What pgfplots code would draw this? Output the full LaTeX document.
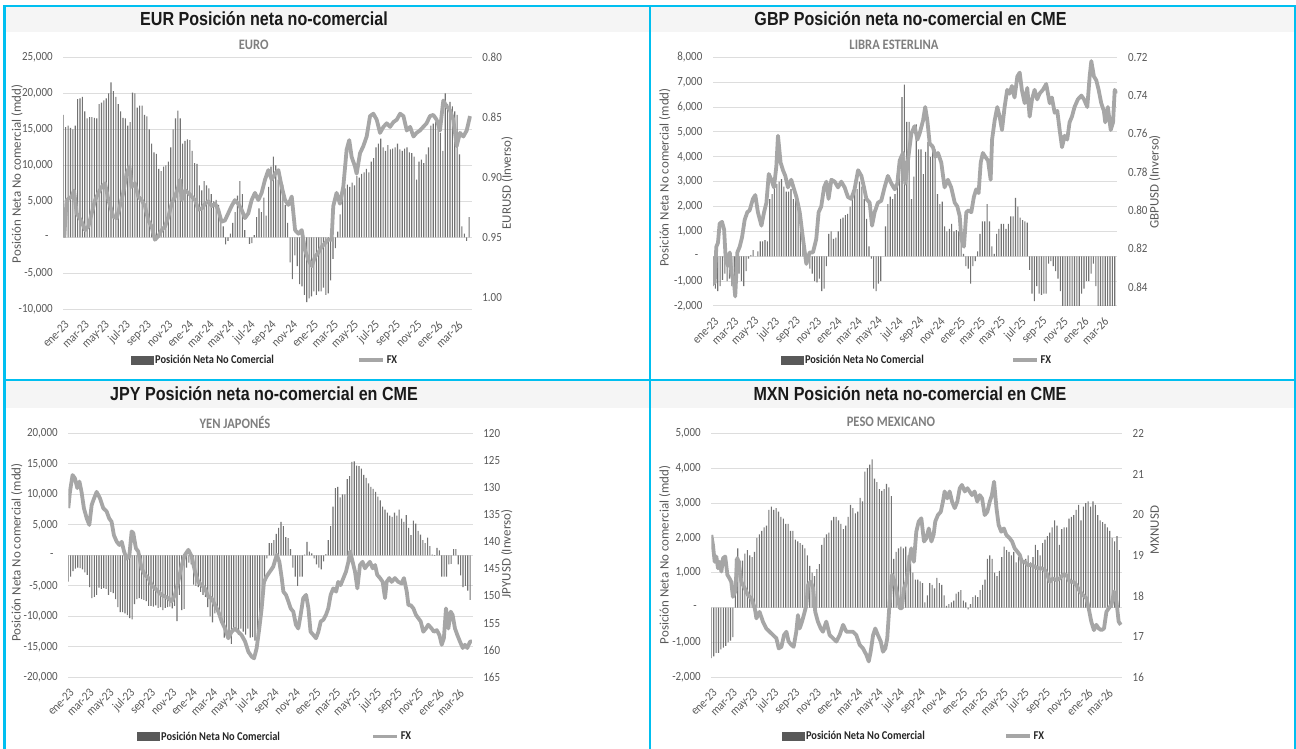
\documentclass[border=0pt]{standalone}
\usepackage{fontspec}
\setmainfont{Carlito}
\newfontfamily\titlefont{Liberation Sans}[FakeStretch=0.85]
\newfontfamily\tickfont{Carlito}[FakeStretch=0.88]
\newfontfamily\legfont{Carlito}[FakeStretch=0.87]
\usepackage{pgfplots}
\pgfplotsset{compat=1.18}

\definecolor{barc}{HTML}{737373}
\definecolor{legbarc}{HTML}{595959}
\definecolor{fxc}{HTML}{A6A6A6}
\definecolor{gridc}{HTML}{DDDDDD}
\definecolor{tickc}{HTML}{595959}
\definecolor{cyanc}{HTML}{00BFF0}
\definecolor{bandc}{HTML}{F5F5F5}
\definecolor{subc}{HTML}{7F7F7F}
\definecolor{titlec}{HTML}{1A1A1A}
\definecolor{legc}{HTML}{262626}

\pgfplotsset{
  panel/.style={scale only axis, xmin=0, xmax=171.1, clip=true,
    scaled x ticks=false, scaled y ticks=false,
    axis line style={draw=none}, major tick style={draw=none},
    xtick={0,8.43,17.14,25.86,34.71,43.43,52.14,60.71,69.43,78.14,87,95.71,104.43,112.86,121.57,130.29,139.14,147.86,156.57,165},
    xticklabels={ene-23,mar-23,may-23,jul-23,sep-23,nov-23,ene-24,mar-24,may-24,jul-24,sep-24,nov-24,ene-25,mar-25,may-25,jul-25,sep-25,nov-25,ene-26,mar-26},
    xticklabel style={font=\tickfont\fontsize{12.5}{13}\selectfont, text=tickc, rotate=45, anchor=east, inner sep=0pt, xshift=-7.1bp, yshift=-12.3bp},
    yticklabel style={font=\tickfont\fontsize{12.5}{13}\selectfont, text=tickc, inner sep=0pt},
  },
  leftpanel/.style={panel, ymajorgrids, grid style={draw=gridc, line width=1bp},
    yticklabel style={xshift=-10.5bp}},
  rightpanel/.style={panel, axis y line*=right, y dir=reverse, hide x axis,
    yticklabel style={xshift=10.5bp},
    legend style={draw=none, fill=none, inner sep=0pt, legend columns=2,
      font=\legfont\bfseries\fontsize{12}{13}\selectfont, text=legc, nodes={inner sep=1.5bp}}},
  barplot/.style={ybar, bar width=1.1bp, fill=barc, draw=none},
  fxplot/.style={color=fxc, line width=3.8bp, line join=round, no markers,
    legend image code/.code={\draw[color=fxc, line width=3.8bp] (0bp,0bp) -- (24bp,0bp);}},
  barleg/.style={legend image code/.code={\fill[legbarc] (0bp,-4bp) rectangle (22bp,4bp);}},
}

\begin{document}
\begin{tikzpicture}
\path[use as bounding box] (0bp,0bp) rectangle (1296bp,749bp);
\fill[white] (0bp,0bp) rectangle (1296bp,749bp);
% title bands
\fill[bandc] (5.4bp,716.5bp) rectangle (649bp,742.3bp);
\fill[bandc] (651bp,716.5bp) rectangle (1294.2bp,742.3bp);
\fill[bandc] (5.4bp,341bp) rectangle (649bp,367.7bp);
\fill[bandc] (651bp,341bp) rectangle (1294.2bp,367.7bp);

% ---------------- EUR ----------------
\begin{axis}[leftpanel, at={(63.3bp,439.7bp)}, anchor=south west, width=408.4bp, height=252bp,
  ymin=-10000, ymax=25000, ytick={-10000,-5000,0,5000,10000,15000,20000,25000},
  yticklabels={{-10,000},{-5,000},{-\hspace*{4bp}},{5,000},{10,000},{15,000},{20,000},{25,000}}]
\addplot[barplot] coordinates {(0,17000)(1,15300)(2,15500)(3,15200)(4,15000)(5,15500)(6,19200)(7,19300)(8,19500)(9,17500)(10,16500)(11,16700)(12,16700)(13,16600)(14,16500)(15,18500)(16,18700)(17,19000)(18,19300)(19,20000)(20,21500)(21,20300)(22,19500)(23,18500)(24,17500)(25,16600)(26,16500)(27,15500)(28,16000)(29,20100)(30,20000)(31,18000)(32,18300)(33,18300)(34,17000)(35,16800)(36,15000)(37,13000)(38,11800)(39,11600)(40,9500)(41,9200)(42,9800)(43,10000)(44,10500)(45,12500)(46,15000)(47,16500)(48,17600)(49,16500)(50,13000)(51,13400)(52,13600)(53,13500)(54,12000)(55,10300)(56,10200)(57,7200)(58,6500)(59,7800)(60,7200)(61,6800)(62,6000)(63,5000)(64,5200)(65,4500)(66,3000)(67,1500)(68,-1000)(69,-500)(70,500)(71,2000)(72,3500)(73,5800)(74,7800)(75,6000)(76,1000)(77,0)(78,-900)(79,-800)(80,300)(81,2800)(82,4000)(83,3500)(84,5500)(85,3000)(86,7000)(87,9800)(88,11200)(89,10000)(90,8000)(91,7800)(92,7300)(93,4500)(94,2000)(95,-3500)(96,-5800)(97,-2500)(98,-4000)(99,-6500)(100,-6800)(101,-8000)(102,-9000)(103,-8500)(104,-8200)(105,-7500)(106,-8000)(107,-7500)(108,-7500)(109,-7000)(110,-8000)(111,-7800)(112,-6000)(113,-3000)(114,-1500)(115,800)(116,3200)(117,6500)(118,6800)(119,7300)(120,7000)(121,7600)(122,7200)(123,8500)(124,8300)(125,8800)(126,9000)(127,9500)(128,9000)(129,10500)(130,11000)(131,12500)(132,13000)(133,13700)(134,12500)(135,12000)(136,12800)(137,12200)(138,12300)(139,12500)(140,13000)(141,12200)(142,12000)(143,12300)(144,12500)(145,11800)(146,11700)(147,11200)(148,8000)(149,10500)(150,10800)(151,10300)(152,11500)(153,12500)(154,15500)(155,15800)(156,16000)(157,16200)(158,14500)(159,12000)(160,20000)(161,18500)(162,18800)(163,18200)(164,17500)(165,17000)(166,11500)(167,1500)(168,500)(169,-500)(170,2800)};
\end{axis}
\begin{axis}[rightpanel, at={(63.3bp,439.7bp)}, anchor=south west, width=408.4bp, height=252bp,
  ymin=0.80, ymax=1.01, ytick={0.80,0.85,0.90,0.95,1.00},
  yticklabels={0.80,0.85,0.90,0.95,1.00},
  legend style={at={(0.166,-0.201)}, anchor=west, /tikz/every even column/.append style={column sep=82bp}}]
\addlegendimage{barleg}
\addlegendentry{Posición Neta No Comercial}
\addplot[fxplot] coordinates {(0,0.933)(0.4,0.949)(1.4,0.919)(3.5,0.916)(4.5,0.911)(5.6,0.930)(7.7,0.937)(9.1,0.944)(10.5,0.941)(11.9,0.930)(13.3,0.919)(14.7,0.913)(16.1,0.908)(17.5,0.905)(18.9,0.919)(21.0,0.933)(22.4,0.934)(23.7,0.924)(25.1,0.913)(26.5,0.897)(27.7,0.891)(28.6,0.908)(30.0,0.905)(31.4,0.916)(32.8,0.919)(34.2,0.924)(35.6,0.936)(37.0,0.941)(38.4,0.952)(39.8,0.949)(41.2,0.944)(42.6,0.941)(44.0,0.933)(45.4,0.922)(46.8,0.916)(48.2,0.908)(48.9,0.902)(49.6,0.919)(51.0,0.911)(52.4,0.913)(53.8,0.916)(55.2,0.919)(56.6,0.927)(58.0,0.926)(59.4,0.922)(60.8,0.920)(62.2,0.924)(63.6,0.922)(64.9,0.927)(66.3,0.937)(67.7,0.936)(69.1,0.930)(70.5,0.924)(71.9,0.919)(73.3,0.922)(74.7,0.927)(76.1,0.934)(77.5,0.930)(78.9,0.919)(80.3,0.913)(81.7,0.919)(83.1,0.913)(84.5,0.902)(85.9,0.894)(87.3,0.902)(88.7,0.897)(90.1,0.894)(91.5,0.908)(92.9,0.919)(94.3,0.923)(95.7,0.916)(96.4,0.930)(97.1,0.944)(98.5,0.947)(99.9,0.944)(101.3,0.961)(102.7,0.969)(104.1,0.974)(105.5,0.966)(106.8,0.963)(108.2,0.958)(109.6,0.955)(111.0,0.952)(112.4,0.952)(113.1,0.924)(114.5,0.913)(115.9,0.922)(117.3,0.908)(118.7,0.877)(119.8,0.869)(120.8,0.883)(122.2,0.891)(122.9,0.897)(124.3,0.880)(125.7,0.874)(127.1,0.866)(128.5,0.849)(129.9,0.847)(131.3,0.852)(132.7,0.863)(134.1,0.858)(135.5,0.855)(136.9,0.858)(138.3,0.854)(139.7,0.852)(141.1,0.847)(142.5,0.849)(143.9,0.861)(145.3,0.858)(146.7,0.866)(148.0,0.863)(149.4,0.861)(150.8,0.858)(152.2,0.855)(153.6,0.849)(155.0,0.848)(156.4,0.852)(157.8,0.861)(159.2,0.836)(160.6,0.841)(162.0,0.844)(163.4,0.852)(164.8,0.874)(166.2,0.863)(167.6,0.866)(169.0,0.861)(170.4,0.849)};
\addlegendentry{FX}
\end{axis}

% ---------------- GBP ----------------
\begin{axis}[leftpanel, at={(713bp,443bp)}, anchor=south west, width=404.3bp, height=248.7bp,
  ymin=-2000, ymax=8000, ytick={-2000,-1000,0,1000,2000,3000,4000,5000,6000,7000,8000},
  yticklabels={{-2,000},{-1,000},{-\hspace*{4bp}},{1,000},{2,000},{3,000},{4,000},{5,000},{6,000},{7,000},{8,000}}]
\addplot[barplot] coordinates {(0,-1200)(1,-1300)(2,-1400)(3,-1200)(4,-950)(5,-700)(6,-1000)(7,-900)(8,-1200)(9,-1100)(10,-700)(11,-700)(12,-1000)(13,-1200)(14,-600)(15,-100)(16,50)(17,250)(18,0)(19,200)(20,600)(21,600)(22,650)(23,600)(24,2300)(25,2500)(26,2800)(27,2900)(28,3000)(29,3100)(30,2800)(31,2600)(32,2600)(33,2700)(34,2300)(35,2400)(36,2300)(37,1700)(38,1000)(39,400)(40,-300)(41,-500)(42,-700)(43,-1000)(44,-1050)(45,-900)(46,-1400)(47,-1300)(48,-400)(49,900)(50,1000)(51,700)(52,750)(53,1000)(54,1500)(55,1550)(56,1650)(57,1700)(58,2000)(59,2300)(60,2600)(61,2700)(62,3000)(63,2800)(64,2300)(65,1500)(66,400)(67,-100)(68,-1300)(69,-1400)(70,-1100)(71,-1000)(72,0)(73,1200)(74,2100)(75,2400)(76,2300)(77,2500)(78,3300)(79,4000)(80,6400)(81,6900)(82,5400)(83,5400)(84,2300)(85,3200)(86,5300)(87,4300)(88,4300)(89,3300)(90,4200)(91,4600)(92,4000)(93,4500)(94,4300)(95,2500)(96,2100)(97,2200)(98,1200)(99,1000)(100,1100)(101,1300)(102,1000)(103,1050)(104,1000)(105,1050)(106,100)(107,-400)(108,-500)(109,-1100)(110,-400)(111,-200)(112,200)(113,900)(114,1400)(115,1400)(116,2100)(117,1400)(118,400)(119,100)(120,900)(121,1100)(122,1300)(123,1300)(124,1100)(125,1300)(126,1600)(127,1600)(128,2350)(129,2000)(130,1550)(131,1450)(132,1400)(133,1350)(134,-550)(135,-1500)(136,-1800)(137,-1200)(138,-1500)(139,-1550)(140,-1500)(141,-1500)(142,-300)(143,-200)(144,-400)(145,-600)(146,-900)(147,-1400)(148,-2100)(149,-2100)(150,-2100)(151,-2100)(152,-2100)(153,-2100)(154,-2100)(155,-2100)(156,-1500)(157,-1300)(158,-1000)(159,-1000)(160,-700)(161,-300)(162,-1200)(163,-2000)(164,-2100)(165,-2100)(166,-2100)(167,-2100)(168,-2100)(169,-2100)(170,-2100)};
\end{axis}
\begin{axis}[rightpanel, at={(713bp,443bp)}, anchor=south west, width=404.3bp, height=248.7bp,
  ymin=0.72, ymax=0.85, ytick={0.72,0.74,0.76,0.78,0.80,0.82,0.84},
  yticklabels={0.72,0.74,0.76,0.78,0.80,0.82,0.84},
  legend style={at={(0.168,-0.217)}, anchor=west, /tikz/every even column/.append style={column sep=86bp}}]
\addlegendimage{barleg}
\addlegendentry{Posición Neta No Comercial}
\addplot[fxplot] coordinates {(0,0.826)(0.7,0.838)(1.4,0.819)(2.1,0.817)(2.8,0.807)(3.8,0.806)(4.7,0.810)(5.4,0.826)(6.3,0.829)(7.1,0.822)(7.8,0.833)(8.9,0.838)(9.4,0.845)(10.3,0.822)(11.3,0.819)(12.3,0.814)(13.4,0.805)(14.5,0.801)(15.5,0.800)(16.9,0.794)(17.9,0.792)(19.0,0.801)(20.5,0.808)(21.6,0.801)(22.6,0.796)(23.6,0.781)(24.7,0.784)(25.8,0.788)(26.8,0.777)(27.5,0.761)(28.6,0.775)(29.6,0.779)(30.6,0.782)(31.7,0.788)(33.1,0.784)(34.3,0.789)(35.3,0.793)(36.7,0.801)(38.1,0.815)(39.5,0.828)(40.9,0.822)(42.3,0.822)(43.7,0.815)(44.7,0.801)(45.8,0.798)(47.0,0.788)(48.0,0.785)(48.9,0.794)(50.1,0.784)(51.5,0.785)(52.9,0.788)(54.3,0.785)(55.7,0.788)(57.1,0.793)(58.5,0.794)(59.9,0.789)(61.4,0.779)(62.8,0.782)(63.9,0.788)(64.9,0.794)(66.3,0.796)(67.3,0.808)(68.4,0.801)(69.8,0.796)(71.2,0.795)(72.6,0.788)(74.0,0.782)(75.5,0.786)(76.9,0.789)(78.0,0.786)(79.0,0.774)(80.4,0.770)(81.4,0.786)(82.5,0.774)(83.9,0.760)(85.3,0.756)(86.5,0.763)(87.4,0.760)(88.9,0.753)(89.8,0.746)(90.7,0.753)(91.7,0.765)(93.1,0.767)(94.1,0.772)(95.2,0.770)(96.6,0.775)(98.0,0.788)(99.4,0.784)(100.8,0.788)(102.3,0.796)(103.4,0.798)(104.4,0.803)(105.1,0.815)(106.2,0.819)(107.2,0.801)(108.2,0.800)(109.3,0.801)(110.4,0.793)(111.4,0.789)(112.4,0.791)(113.3,0.775)(114.2,0.770)(115.2,0.772)(116.4,0.774)(117.5,0.784)(118.1,0.763)(119.2,0.753)(120.3,0.746)(121.3,0.751)(122.3,0.758)(123.4,0.746)(124.5,0.737)(125.5,0.739)(126.5,0.735)(127.6,0.741)(128.8,0.730)(129.8,0.728)(130.7,0.737)(131.9,0.744)(133.0,0.736)(134.0,0.751)(135.0,0.742)(136.1,0.737)(137.2,0.742)(138.2,0.739)(139.6,0.737)(141.0,0.734)(142.5,0.744)(143.4,0.741)(144.6,0.749)(145.7,0.748)(146.7,0.758)(147.7,0.767)(148.8,0.761)(149.9,0.763)(150.9,0.754)(151.9,0.751)(153.0,0.746)(154.4,0.742)(155.9,0.740)(157.0,0.742)(158.4,0.746)(159.4,0.730)(160.1,0.722)(161.2,0.730)(162.2,0.732)(163.2,0.737)(164.3,0.744)(165.4,0.748)(166.0,0.754)(167.1,0.746)(168.3,0.758)(169.3,0.754)(170.0,0.737)(170.7,0.739)};
\addlegendentry{FX}
\end{axis}

% ---------------- JPY ----------------
\begin{axis}[leftpanel, at={(68.3bp,71.7bp)}, anchor=south west, width=404.4bp, height=244bp,
  ymin=-20000, ymax=20000, ytick={-20000,-15000,-10000,-5000,0,5000,10000,15000,20000},
  yticklabels={{-20,000},{-15,000},{-10,000},{-5,000},{-\hspace*{4bp}},{5,000},{10,000},{15,000},{20,000}}]
\addplot[barplot] coordinates {(0,-4300)(1,-3500)(2,-2600)(3,-2200)(4,-2000)(5,-2100)(6,-2300)(7,-2800)(8,-3200)(9,-5200)(10,-7000)(11,-6800)(12,-6500)(13,-5300)(14,-5500)(15,-5400)(16,-5500)(17,-6500)(18,-6000)(19,-6200)(20,-7200)(21,-8500)(22,-9300)(23,-9300)(24,-9500)(25,-9800)(26,-10300)(27,-10500)(28,-8000)(29,-7200)(30,-7000)(31,-7200)(32,-7300)(33,-7500)(34,-8300)(35,-8300)(36,-8400)(37,-8200)(38,-8600)(39,-8500)(40,-9000)(41,-8600)(42,-8500)(43,-8400)(44,-8700)(45,-8300)(46,-10800)(47,-6500)(48,-9000)(49,-8800)(50,-2000)(51,-1200)(52,-1500)(53,-4800)(54,-5000)(55,-5200)(56,-6000)(57,-6500)(58,-6800)(59,-8500)(60,-10000)(61,-11000)(62,-9500)(63,-9300)(64,-9800)(65,-10500)(66,-13500)(67,-13200)(68,-13600)(69,-14500)(70,-12000)(71,-12500)(72,-13000)(73,-12000)(74,-12500)(75,-13000)(76,-12000)(77,-13500)(78,-13400)(79,-14000)(80,-13500)(81,-12000)(82,-8000)(83,-4000)(84,-500)(85,2000)(86,2000)(87,2500)(88,3500)(89,4500)(90,5500)(91,4800)(92,3000)(93,2800)(94,1000)(95,-2000)(96,-3500)(97,-5000)(98,-3500)(99,-3500)(100,100)(101,2200)(102,600)(103,300)(104,-500)(105,-1500)(106,-2000)(107,-2300)(108,-1000)(109,200)(110,2500)(111,4800)(112,8000)(113,11000)(114,11200)(115,9500)(116,10000)(117,10000)(118,12500)(119,13000)(120,15300)(121,15400)(122,14700)(123,14600)(124,14200)(125,13200)(126,12700)(127,11800)(128,11200)(129,10900)(130,10400)(131,9600)(132,9000)(133,8000)(134,7500)(135,7000)(136,6500)(137,6300)(138,7000)(139,6500)(140,7500)(141,6000)(142,5500)(143,6600)(144,4500)(145,3300)(146,5700)(147,5200)(148,4000)(149,3400)(150,2500)(151,2000)(152,2900)(153,1500)(154,100)(155,-100)(156,1200)(157,800)(158,-3500)(159,-3500)(160,-3500)(161,-1500)(162,-1400)(163,1000)(164,1000)(165,-1500)(166,-3300)(167,-5200)(168,-5000)(169,-5800)(170,-7300)};
\end{axis}
\begin{axis}[rightpanel, at={(68.3bp,71.7bp)}, anchor=south west, width=404.4bp, height=244bp,
  ymin=120, ymax=165, ytick={120,125,130,135,140,145,150,155,160,165},
  yticklabels={120,125,130,135,140,145,150,155,160,165},
  legend style={at={(0.170,-0.243)}, anchor=west, /tikz/every even column/.append style={column sep=90bp}}]
\addlegendimage{barleg}
\addlegendentry{Posición Neta No Comercial}
\addplot[fxplot] coordinates {(0,133.8)(0.7,130.8)(1.8,127.7)(2.8,128.3)(3.8,130.1)(4.7,128.9)(5.6,130.8)(6.6,133.8)(7.8,135.7)(8.9,136.9)(9.9,133.2)(10.9,132.0)(12.0,130.8)(13.4,132.0)(14.8,133.8)(16.2,134.4)(17.3,135.7)(18.3,136.3)(19.3,138.8)(20.5,140.0)(21.6,140.6)(22.6,140.0)(23.6,141.8)(24.7,143.1)(25.8,142.7)(26.8,138.1)(27.5,138.4)(28.6,141.2)(29.6,141.8)(31.0,144.9)(32.4,146.1)(33.9,146.7)(35.3,148.0)(36.7,148.6)(38.1,149.2)(39.5,149.8)(40.9,150.1)(42.3,150.4)(43.7,151.0)(45.1,149.8)(46.5,147.4)(48.0,144.3)(49.4,142.4)(50.8,141.5)(52.2,142.7)(53.6,145.5)(55.0,147.4)(56.4,148.0)(57.8,148.6)(59.2,150.1)(60.6,150.4)(62.1,151.7)(63.5,152.9)(64.9,154.7)(66.3,156.0)(67.7,157.8)(69.1,156.6)(70.5,156.0)(71.9,156.6)(73.3,157.2)(74.8,158.4)(76.2,160.3)(77.6,161.2)(78.6,161.5)(79.7,159.6)(80.8,156.0)(81.8,152.3)(82.8,147.4)(83.9,146.4)(85.3,145.5)(86.7,144.6)(88.2,142.4)(89.3,143.7)(90.3,146.7)(91.0,149.2)(92.1,149.8)(93.1,151.0)(94.1,152.3)(95.2,152.9)(96.3,155.3)(97.3,156.0)(98.3,153.5)(99.4,150.4)(100.6,149.8)(101.6,152.3)(102.5,156.6)(103.7,157.2)(104.8,157.8)(105.8,156.6)(106.8,154.7)(107.9,154.4)(109.0,153.5)(110.0,152.3)(111.0,149.8)(112.1,148.6)(113.3,149.2)(114.2,147.4)(115.2,148.0)(116.4,146.7)(117.5,145.5)(118.5,143.7)(119.2,141.8)(120.3,143.7)(121.3,145.5)(122.3,148.6)(123.4,144.3)(124.5,143.7)(125.5,144.9)(126.5,144.3)(127.6,143.7)(128.8,144.9)(129.8,144.3)(130.7,146.1)(131.9,146.7)(133.0,147.4)(134.0,150.4)(134.7,147.4)(135.8,146.7)(136.8,147.4)(138.2,146.7)(139.6,147.4)(141.0,147.7)(142.0,146.7)(143.2,149.2)(143.9,151.7)(144.9,151.7)(146.0,152.3)(147.1,153.5)(148.1,154.1)(149.1,154.7)(150.2,156.6)(151.3,156.0)(152.3,155.3)(153.7,156.0)(154.7,156.6)(155.9,156.3)(157.0,157.2)(158.0,159.0)(158.9,157.8)(159.8,152.3)(160.8,156.0)(161.8,152.9)(162.6,153.5)(163.6,156.0)(164.6,157.2)(165.7,158.4)(166.9,159.6)(167.8,159.0)(168.8,159.6)(170.0,158.4)(170.8,158.4)};
\addlegendentry{FX}
\end{axis}

% ---------------- MXN ----------------
\begin{axis}[leftpanel, at={(711.3bp,71.7bp)}, anchor=south west, width=410.7bp, height=244bp,
  ymin=-2000, ymax=5000, ytick={-2000,-1000,0,1000,2000,3000,4000,5000},
  yticklabels={{-2,000},{-1,000},{-\hspace*{4bp}},{1,000},{2,000},{3,000},{4,000},{5,000}}]
\addplot[barplot] coordinates {(0,-1450)(1,-1400)(2,-1300)(3,-1300)(4,-1200)(5,-1150)(6,-1100)(7,-1000)(8,-950)(9,-850)(10,1400)(11,1700)(12,1350)(13,1350)(14,1550)(15,1650)(16,1500)(17,1450)(18,1600)(19,2000)(20,2100)(21,2200)(22,2300)(23,2350)(24,2800)(25,2900)(26,2800)(27,2850)(28,2750)(29,2600)(30,2550)(31,2400)(32,2400)(33,2200)(34,2200)(35,1950)(36,1900)(37,1850)(38,1800)(39,1700)(40,1500)(41,1200)(42,1000)(43,900)(44,1100)(45,1250)(46,1800)(47,2000)(48,2100)(49,2150)(50,2500)(51,2600)(52,2600)(53,2500)(54,2400)(55,2250)(56,2350)(57,2600)(58,2950)(59,2850)(60,2700)(61,2750)(62,3150)(63,3050)(64,3900)(65,4000)(66,4100)(67,4250)(68,3700)(69,3600)(70,3400)(71,3350)(72,3400)(73,3550)(74,3450)(75,3200)(76,1400)(77,1600)(78,1700)(79,1750)(80,1700)(81,1750)(82,1500)(83,1300)(84,1000)(85,800)(86,800)(87,750)(88,700)(89,150)(90,350)(91,700)(92,650)(93,550)(94,850)(95,700)(96,650)(97,350)(98,50)(99,100)(100,150)(101,200)(102,400)(103,450)(104,500)(105,200)(106,150)(107,-50)(108,100)(109,300)(110,350)(111,300)(112,500)(113,650)(114,800)(115,1400)(116,1500)(117,1400)(118,1000)(119,900)(120,1050)(121,1450)(122,1750)(123,1650)(124,1600)(125,1500)(126,1600)(127,1300)(128,1450)(129,1400)(130,1350)(131,1400)(132,1500)(133,1300)(134,1450)(135,1800)(136,1650)(137,1500)(138,1850)(139,1950)(140,2050)(141,2150)(142,2300)(143,2500)(144,2350)(145,1800)(146,2250)(147,2300)(148,2300)(149,2550)(150,2600)(151,2650)(152,2800)(153,2950)(154,2500)(155,2900)(156,3000)(157,3050)(158,2900)(159,3050)(160,2950)(161,2650)(162,2500)(163,2450)(164,2400)(165,2300)(166,2200)(167,2000)(168,1900)(169,2050)(170,1650)};
\end{axis}
\begin{axis}[rightpanel, y dir=normal, at={(711.3bp,71.7bp)}, anchor=south west, width=410.7bp, height=244bp,
  ymin=16, ymax=22, ytick={16,17,18,19,20,21,22},
  yticklabels={16,17,18,19,20,21,22},
  legend style={at={(0.172,-0.241)}, anchor=west, /tikz/every even column/.append style={column sep=78bp}}]
\addlegendimage{barleg}
\addlegendentry{Posición Neta No Comercial}
\addplot[fxplot] coordinates {(0,19.50)(0.7,19.25)(1.4,18.84)(2.1,18.97)(2.8,18.68)(3.5,18.84)(4.2,18.60)(4.9,18.93)(5.8,18.97)(6.7,18.52)(7.6,18.43)(8.3,18.35)(9.0,17.98)(10.0,18.11)(10.8,18.93)(11.4,18.84)(12.5,18.35)(13.9,18.19)(15.3,18.02)(16.7,17.94)(18.1,17.70)(18.8,17.45)(20.1,17.61)(21.5,17.37)(22.9,17.20)(24.3,17.12)(25.7,17.04)(27.1,16.96)(28.1,16.71)(29.2,16.75)(30.3,17.04)(31.3,17.12)(32.2,16.88)(33.3,16.80)(34.3,16.75)(35.4,17.12)(36.1,17.53)(36.8,17.20)(37.8,17.37)(38.9,17.61)(39.6,17.78)(40.3,18.27)(41.4,18.35)(42.4,18.19)(43.3,17.61)(44.4,17.37)(45.6,17.20)(46.5,17.12)(47.9,17.37)(49.3,17.04)(50.7,16.96)(52.1,16.88)(53.5,17.04)(54.9,17.29)(56.3,17.12)(57.6,17.12)(59.0,17.12)(60.4,17.04)(61.8,16.80)(63.2,16.71)(64.6,16.55)(65.6,16.39)(66.4,16.63)(67.4,17.04)(68.3,17.20)(69.4,17.04)(70.6,16.88)(71.5,16.63)(72.5,16.71)(73.3,16.96)(74.3,17.86)(75.3,18.52)(76.4,18.35)(77.5,18.02)(78.5,17.70)(79.4,17.70)(80.3,18.19)(81.3,18.35)(82.2,18.76)(83.3,19.17)(84.4,18.84)(85.4,19.58)(86.4,19.83)(87.5,19.91)(88.6,19.34)(89.6,19.42)(90.6,19.66)(91.7,19.34)(92.6,19.50)(93.3,19.83)(94.4,19.99)(95.6,20.07)(96.5,20.32)(97.2,20.57)(98.3,20.40)(99.3,20.57)(100.3,20.32)(101.4,20.16)(102.5,20.32)(103.5,20.65)(104.4,20.73)(105.6,20.57)(106.7,20.65)(107.6,20.57)(108.6,20.48)(109.7,20.57)(110.8,20.32)(111.8,20.48)(112.8,20.40)(113.9,19.99)(115.0,20.07)(116.0,20.32)(116.9,20.48)(117.8,20.81)(118.8,20.16)(119.7,19.75)(120.8,19.58)(121.9,19.66)(122.9,19.50)(124.3,19.42)(125.3,19.34)(126.4,19.17)(127.5,19.09)(128.5,19.01)(129.4,18.84)(130.6,18.84)(131.9,18.76)(133.3,18.76)(134.7,18.72)(136.1,18.68)(137.5,18.68)(138.9,18.64)(140.0,18.52)(141.0,18.35)(142.4,18.43)(143.8,18.39)(145.1,18.43)(146.5,18.52)(147.9,18.52)(149.3,18.35)(150.7,18.35)(152.1,18.27)(153.5,18.11)(154.9,18.02)(156.3,17.94)(157.2,17.70)(158.3,17.37)(159.4,17.16)(160.4,17.29)(161.4,17.20)(162.5,17.16)(163.6,17.20)(164.6,17.61)(165.6,17.70)(166.7,17.78)(167.8,18.11)(168.8,17.86)(169.7,17.37)(170.6,17.29)};
\addlegendentry{FX}
\end{axis}

% titles and labels
\begin{scope}[every node/.style={inner sep=0pt}]
\node[font=\titlefont\bfseries\fontsize{19}{21}\selectfont, text=titlec] at (264bp,730bp) {EUR Posición neta no-comercial};
\node[font=\titlefont\bfseries\fontsize{19}{21}\selectfont, text=titlec] at (910.5bp,730bp) {GBP Posición neta no-comercial en CME};
\node[font=\titlefont\bfseries\fontsize{19}{21}\selectfont, text=titlec] at (264bp,355bp) {JPY Posición neta no-comercial en CME};
\node[font=\titlefont\bfseries\fontsize{19}{21}\selectfont, text=titlec] at (910bp,355bp) {MXN Posición neta no-comercial en CME};
\node[font=\legfont\bfseries\fontsize{14.5}{16}\selectfont, text=subc] at (253.7bp,704bp) {EURO};
\node[font=\legfont\bfseries\fontsize{14.5}{16}\selectfont, text=subc] at (894bp,704bp) {LIBRA ESTERLINA};
\node[font=\legfont\bfseries\fontsize{14.5}{16}\selectfont, text=subc] at (235bp,326.3bp) {YEN JAPONÉS};
\node[font=\legfont\bfseries\fontsize{14.5}{16}\selectfont, text=subc] at (891bp,326.7bp) {PESO MEXICANO};
\node[rotate=90, font=\fontsize{13}{14}\selectfont, text=tickc] at (17bp,575bp) {Posición Neta No comercial (mdd)};
\node[rotate=90, font=\fontsize{13}{14}\selectfont, text=tickc] at (664.7bp,571.5bp) {Posición Neta No comercial (mdd)};
\node[rotate=90, font=\fontsize{13}{14}\selectfont, text=tickc] at (16.7bp,196.5bp) {Posición Neta No comercial (mdd)};
\node[rotate=90, font=\fontsize{13}{14}\selectfont, text=tickc] at (664.7bp,194bp) {Posición Neta No comercial (mdd)};
\node[rotate=90, font=\fontsize{13}{14}\selectfont, text=tickc] at (507bp,566bp) {EURUSD (Inverso)};
\node[rotate=90, font=\fontsize{13}{14}\selectfont, text=tickc] at (1154.7bp,567.3bp) {GBPUSD (Inverso)};
\node[rotate=90, font=\fontsize{13}{14}\selectfont, text=tickc] at (506.7bp,195bp) {JPYUSD (Inverso)};
\node[rotate=90, font=\fontsize{13}{14}\selectfont, text=tickc] at (1154.7bp,219bp) {MXNUSD};
\end{scope}

% panel frames
\draw[cyanc, line width=2.4bp] (4.3bp,0bp) -- (4.3bp,743.2bp) -- (1295.3bp,743.2bp) -- (1295.3bp,0bp);
\draw[cyanc, line width=2.4bp] (650bp,0bp) -- (650bp,743.2bp);
\draw[cyanc, line width=2.4bp] (4.3bp,369bp) -- (1295.3bp,369bp);
\end{tikzpicture}
\end{document}
